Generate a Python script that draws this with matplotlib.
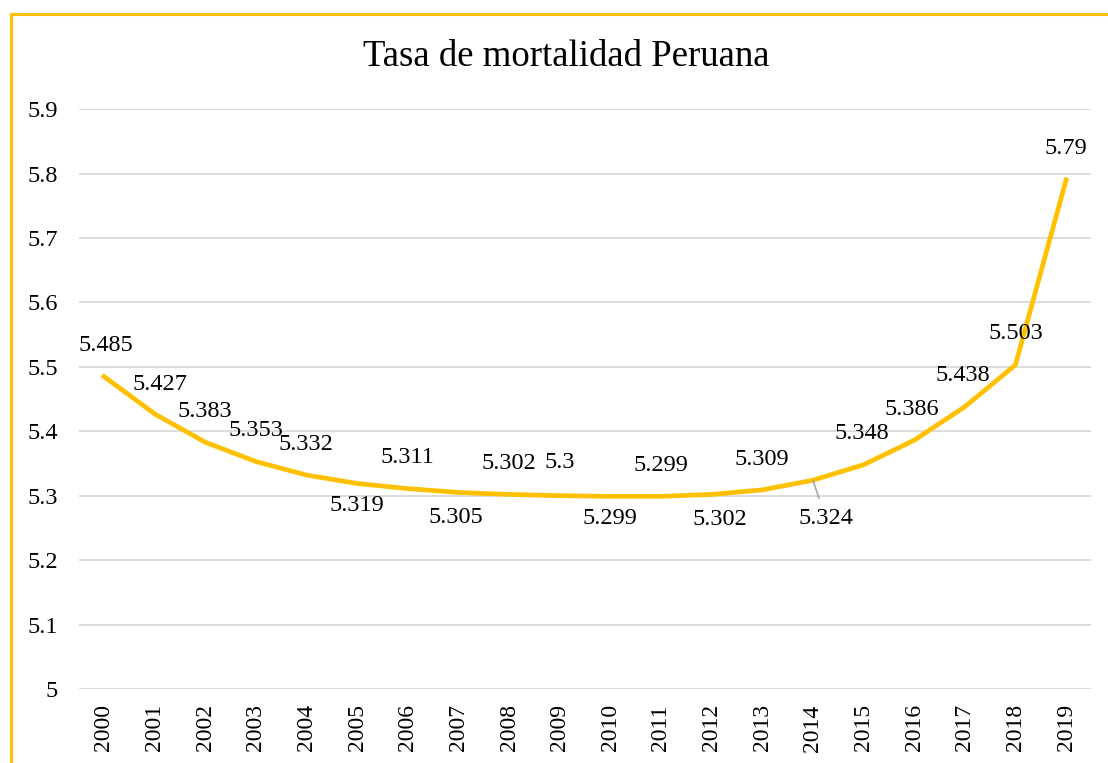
import matplotlib
matplotlib.use("Agg")
import matplotlib.pyplot as plt
from matplotlib.lines import Line2D

years = [str(y) for y in range(2000, 2020)]
rates = [5.485, 5.427, 5.383, 5.353, 5.332, 5.319, 5.311, 5.305, 5.302, 5.3,
         5.299, 5.299, 5.302, 5.309, 5.324, 5.348, 5.386, 5.438, 5.503, 5.79]
rate_labels = ["5.485", "5.427", "5.383", "5.353", "5.332", "5.319", "5.311", "5.305",
               "5.302", "5.3", "5.299", "5.299", "5.302", "5.309", "5.324", "5.348",
               "5.386", "5.438", "5.503", "5.79"]
yticks = [5.0, 5.1, 5.2, 5.3, 5.4, 5.5, 5.6, 5.7, 5.8, 5.9]
ytick_labels = ["5", "5.1", "5.2", "5.3", "5.4", "5.5", "5.6", "5.7", "5.8", "5.9"]
title = "Tasa de mortalidad Peruana"

# label offsets in pixels (dx, dy)
offsets = [(2, 31), (5, 29), (0, 31), (0, 31), (-1, 31), (0, -22), (0, 31), (-3, -25),
           (0, 31), (0, 33), (0, -22), (0, 31), (8, -25), (0, 30), (13, -38), (-2, 31),
           (-2, 31), (-2, 31), (0, 31), (0, 31)]

plt.rcParams['font.family'] = ['Liberation Serif', 'DejaVu Serif']

fig = plt.figure(figsize=(11.08, 7.63), dpi=100)
ax = fig.add_axes([0.071, 0.097, 0.914, 0.760])

x = list(range(len(years)))
ax.plot(x, rates, color='#FFC000', lw=3.4, solid_joinstyle='round', zorder=3)

for i, (v, lab) in enumerate(zip(rates, rate_labels)):
    dx, dy = offsets[i]
    kw = {}
    if i == 14:
        kw['arrowprops'] = dict(arrowstyle='-', color='#A6A6A6', lw=1.2, shrinkA=5, shrinkB=0)
    ax.annotate(lab, (i, v), xytext=(dx, dy), textcoords='offset pixels',
                ha='center', va='center', fontsize=17.5, color='#000000', zorder=4, **kw)

ax.set_xlim(-0.5, len(years) - 0.5)
ax.set_ylim(5.0, 5.9)
ax.set_xticks(x)
ax.set_xticklabels(years, rotation=90, fontsize=17)
ax.set_yticks(yticks)
ax.set_yticklabels(ytick_labels, fontsize=17.5)
ax.tick_params(axis='both', length=0)
ax.tick_params(axis='y', pad=15)
ax.tick_params(axis='x', pad=11)
ax.grid(axis='y', color='#D9D9D9', lw=1.3)
ax.set_axisbelow(True)
for s in ax.spines.values():
    s.set_visible(False)

fig.text(0.511, 0.926, title, ha='center', va='center', fontsize=26.5)

# chart border (left and top edges visible)
W, H = 1108, 763
fig.add_artist(Line2D([10.5 / W, 10.5 / W], [0, 1 - 13.5 / H], transform=fig.transFigure,
                      color='#FFC000', lw=2.2))
fig.add_artist(Line2D([10.5 / W, 1], [1 - 13.5 / H, 1 - 13.5 / H], transform=fig.transFigure,
                      color='#FFC000', lw=2.2))

fig.savefig('out.png', dpi=100)
